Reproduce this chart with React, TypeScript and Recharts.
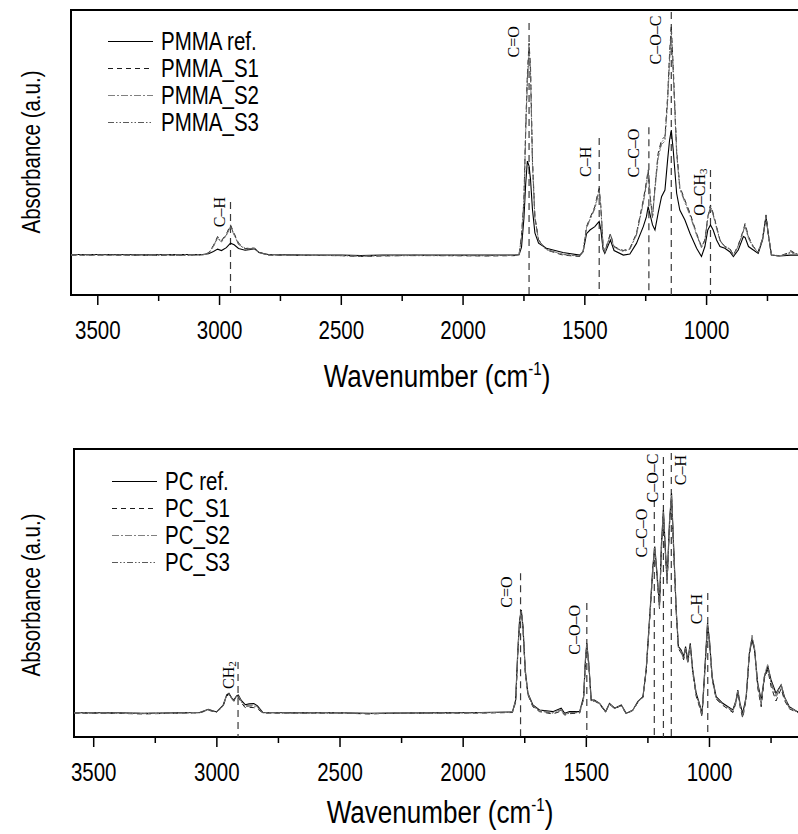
import React from 'react';
import { LineChart, Line, XAxis, YAxis, ReferenceLine, ReferenceArea, ReferenceDot, Legend } from 'recharts';

// ---------- PMMA (top panel) ----------
const PMMA_WAVENUMBERS = [
  3610, 3450, 3300, 3150, 3070, 3045, 3025, 3008, 2992, 2972,
  2955, 2940, 2922, 2895, 2872, 2856, 2838, 2800, 2650, 2500,
  2420, 2330, 2200, 2050, 1900, 1790, 1770, 1760, 1750, 1743,
  1736, 1729, 1723, 1715, 1705, 1690, 1658, 1590, 1521, 1507,
  1493, 1479, 1459, 1448, 1441, 1434, 1425, 1418, 1395, 1380,
  1342, 1315, 1288, 1260, 1247, 1240, 1230, 1222, 1212, 1199,
  1185, 1171, 1160, 1152, 1145, 1137, 1123, 1110, 1089, 1068,
  1041, 1021, 1007, 995, 984, 973, 959, 945, 925, 905,
  890, 870, 849, 842, 828, 808, 788, 770, 756, 747,
  734, 700, 670, 655, 640, 620, 600,
];
const PMMA_REF = [
  14.2, 14.2, 14.1, 14.2, 14.2, 14.5, 15.3, 16.1, 15.6, 16.6,
  18.2, 17.6, 16.3, 15.7, 16.0, 16.2, 14.9, 14.2, 14.0, 14.0,
  13.8, 14.0, 14.0, 14.0, 14.0, 14.0, 14.1, 16.8, 27.0, 38.8,
  47.0, 45.2, 40.5, 30.0, 21.8, 18.2, 16.4, 14.9, 14.0, 15.2,
  21.5, 22.8, 24.0, 25.1, 25.8, 22.8, 15.9, 14.6, 19.3, 15.6,
  14.0, 14.4, 18.1, 24.0, 27.5, 31.0, 27.5, 24.6, 22.8, 28.7,
  34.5, 36.8, 47.4, 54.4, 57.9, 50.9, 35.7, 29.8, 26.3, 21.6,
  16.4, 13.5, 17.0, 22.8, 24.6, 22.8, 19.3, 17.0, 16.4, 15.2,
  13.5, 15.8, 20.5, 20.2, 17.0, 15.8, 14.6, 19.3, 27.5, 21.6,
  14.0, 13.7, 13.9, 14.0, 14.0, 14.0, 14.0,
];
const PMMA_S1 = [
  14.0, 14.0, 13.9, 14.0, 14.1, 14.8, 17.4, 20.5, 19.1, 21.4,
  24.6, 21.6, 18.2, 16.3, 16.5, 16.4, 15.0, 14.0, 13.9, 13.8,
  13.5, 13.7, 13.9, 13.8, 13.7, 13.8, 14.2, 21.0, 33.5, 58.5,
  77.5, 88.3, 80.0, 47.5, 27.5, 19.4, 15.8, 14.0, 13.5, 15.3,
  24.0, 27.0, 31.0, 35.2, 37.4, 31.0, 17.1, 15.2, 21.6, 17.0,
  15.6, 16.4, 21.6, 33.3, 39.8, 43.9, 33.3, 27.5, 38.0, 49.7,
  54.4, 55.6, 69.6, 84.8, 94.4, 80.1, 50.9, 38.0, 33.3, 28.7,
  21.6, 17.0, 19.3, 27.5, 31.6, 28.7, 24.0, 19.3, 17.0, 16.4,
  14.0, 17.5, 22.8, 25.1, 20.5, 17.0, 15.2, 19.9, 28.1, 21.6,
  14.0, 13.7, 14.6, 15.6, 14.8, 14.6, 14.5,
];
const PMMA_S2 = [
  14.1, 14.0, 14.0, 14.1, 14.1, 14.6, 17.0, 19.8, 18.6, 20.9,
  23.8, 21.0, 17.9, 16.0, 16.2, 16.3, 14.8, 14.1, 13.9, 13.9,
  13.6, 13.8, 13.9, 13.9, 13.8, 13.9, 14.1, 20.0, 32.0, 56.0,
  74.0, 85.0, 77.0, 45.5, 26.8, 19.0, 15.9, 14.3, 13.7, 15.2,
  23.4, 26.4, 30.2, 34.0, 36.0, 30.0, 16.8, 15.0, 21.0, 16.6,
  15.3, 16.0, 21.0, 32.2, 38.5, 42.5, 32.5, 27.0, 37.0, 48.0,
  52.8, 54.0, 67.5, 82.0, 91.0, 77.5, 49.5, 37.2, 32.4, 27.8,
  21.0, 16.6, 19.0, 26.8, 30.6, 28.0, 23.4, 19.0, 16.8, 16.1,
  13.8, 17.0, 22.2, 24.0, 19.8, 16.6, 15.0, 19.6, 27.8, 21.6,
  14.1, 13.8, 14.2, 14.8, 14.4, 14.3, 14.2,
];
const PMMA_S3 = [
  14.0, 14.1, 14.0, 13.9, 14.0, 14.7, 17.2, 20.2, 18.8, 21.1,
  24.2, 21.3, 17.7, 16.2, 16.3, 16.5, 14.9, 14.0, 14.0, 13.8,
  13.7, 13.8, 13.8, 13.8, 13.8, 13.9, 14.2, 20.5, 33.0, 57.5,
  76.0, 86.8, 78.5, 46.5, 27.2, 19.2, 16.0, 14.2, 13.6, 15.2,
  23.7, 26.6, 30.6, 34.6, 36.8, 30.5, 17.0, 15.1, 21.3, 16.8,
  15.4, 16.2, 21.3, 32.8, 39.2, 43.2, 33.0, 27.3, 37.6, 49.0,
  53.6, 55.0, 68.8, 83.6, 93.0, 79.0, 50.2, 37.6, 32.9, 28.3,
  21.3, 16.8, 19.2, 27.2, 31.2, 28.4, 23.8, 19.2, 16.9, 16.3,
  13.9, 17.3, 22.5, 24.6, 20.2, 16.8, 15.1, 19.8, 28.0, 21.6,
  14.0, 13.7, 14.4, 15.2, 14.6, 14.4, 14.3,
];

// ---------- PC (bottom panel) ----------
const PC_WAVENUMBERS = [
  3580, 3400, 3300, 3150, 3070, 3035, 3001, 2975, 2960, 2951,
  2940, 2931, 2920, 2913, 2900, 2885, 2869, 2850, 2835, 2813,
  2700, 2500, 2380, 2300, 2100, 1930, 1800, 1787, 1778, 1771,
  1764, 1757, 1748, 1737, 1717, 1690, 1636, 1602, 1588, 1568,
  1527, 1511, 1503, 1498, 1490, 1480, 1467, 1446, 1422, 1406,
  1385, 1358, 1338, 1311, 1291, 1270, 1257, 1241, 1230, 1222,
  1212, 1203, 1195, 1187, 1179, 1172, 1162, 1154, 1146, 1135,
  1126, 1115, 1105, 1097, 1088, 1078, 1068, 1054, 1041, 1030,
  1019, 1008, 1000, 989, 973, 946, 905, 892, 885, 876,
  865, 851, 838, 827, 817, 804, 790, 777, 763, 750,
  730, 709, 696, 676, 643, 600,
];
const PC_REF = [
  8.4, 8.4, 8.2, 8.4, 8.5, 9.6, 8.7, 11.0, 14.6, 15.2,
  13.6, 12.8, 14.3, 14.6, 12.6, 11.2, 11.5, 11.6, 10.8, 8.5,
  8.4, 8.4, 8.2, 8.3, 8.4, 8.5, 8.7, 12.8, 30.2, 40.6,
  44.1, 38.3, 23.3, 15.2, 11.1, 9.4, 8.8, 10.0, 8.2, 8.8,
  8.8, 14.0, 27.9, 32.5, 25.6, 12.8, 12.8, 11.7, 8.8, 11.7,
  10.0, 11.1, 8.2, 9.4, 12.3, 14.0, 23.3, 44.1, 59.1, 66.1,
  55.7, 45.3, 67.2, 78.8, 64.9, 54.5, 75.3, 84.6, 67.2, 44.1,
  31.4, 30.2, 27.9, 31.4, 26.7, 32.5, 23.3, 15.2, 11.7, 8.2,
  23.3, 39.5, 33.7, 20.9, 14.0, 11.7, 9.4, 12.8, 16.3, 11.7,
  8.2, 14.0, 29.1, 33.7, 30.2, 18.6, 12.8, 20.9, 24.4, 19.8,
  15.2, 18.1, 14.0, 10.5, 8.8, 8.6,
];
const PC_S1 = [
  8.3, 8.2, 8.0, 8.3, 8.4, 9.3, 8.6, 10.6, 14.2, 14.8,
  13.3, 12.4, 13.8, 13.9, 11.8, 10.2, 10.3, 10.2, 9.8, 8.3,
  8.3, 8.3, 8.0, 8.2, 8.3, 8.3, 8.5, 12.0, 29.0, 39.6,
  43.5, 37.5, 22.5, 14.6, 10.5, 8.8, 8.0, 9.0, 7.6, 8.1,
  8.3, 13.2, 27.0, 31.6, 24.8, 12.3, 12.5, 11.4, 8.6, 11.4,
  9.8, 10.9, 8.0, 9.2, 12.0, 13.8, 23.0, 43.0, 57.8, 65.0,
  54.6, 44.6, 66.0, 77.4, 63.8, 53.2, 74.0, 83.0, 66.0, 43.2,
  30.6, 29.2, 26.8, 30.2, 25.6, 31.4, 22.4, 14.2, 10.6, 7.0,
  22.5, 38.6, 32.8, 20.0, 13.2, 11.0, 8.5, 12.0, 15.6, 10.5,
  6.5, 13.2, 28.8, 34.2, 30.4, 17.0, 10.5, 20.2, 23.4, 17.5,
  12.5, 16.8, 12.8, 9.8, 8.5, 8.4,
];
const PC_S2 = [
  8.4, 8.3, 8.1, 8.3, 8.5, 9.5, 8.7, 10.8, 14.5, 15.0,
  13.5, 12.6, 14.1, 14.4, 12.3, 10.9, 11.0, 11.1, 10.4, 8.4,
  8.3, 8.4, 8.1, 8.3, 8.3, 8.4, 8.6, 12.5, 29.8, 40.2,
  44.0, 38.0, 23.0, 15.0, 10.9, 9.2, 8.5, 9.6, 8.0, 8.5,
  8.6, 13.7, 27.5, 32.2, 25.3, 12.6, 12.7, 11.6, 8.7, 11.6,
  9.9, 11.0, 8.1, 9.3, 12.2, 13.9, 23.2, 43.6, 58.5, 65.6,
  55.2, 45.0, 66.6, 78.2, 64.4, 54.0, 74.8, 84.0, 66.7, 43.8,
  31.0, 29.8, 27.4, 30.9, 26.2, 32.0, 22.9, 14.8, 11.3, 7.8,
  23.0, 39.2, 33.4, 20.6, 13.7, 11.4, 9.1, 12.5, 16.0, 11.2,
  7.6, 13.7, 29.4, 35.4, 31.0, 18.2, 12.0, 21.6, 25.4, 19.2,
  14.6, 18.4, 13.8, 10.4, 8.7, 8.5,
];
const PC_S3 = [
  8.3, 8.3, 8.2, 8.4, 8.4, 9.4, 8.6, 10.7, 14.3, 14.9,
  13.4, 12.5, 14.0, 14.2, 12.1, 10.6, 10.7, 10.8, 10.2, 8.4,
  8.3, 8.3, 8.1, 8.2, 8.3, 8.4, 8.6, 12.3, 29.5, 40.0,
  43.8, 37.8, 22.8, 14.8, 10.7, 9.0, 8.3, 9.3, 7.8, 8.3,
  8.5, 13.4, 27.2, 31.9, 25.0, 12.5, 12.6, 11.5, 8.7, 11.5,
  9.9, 11.0, 8.1, 9.3, 12.1, 13.9, 23.1, 43.3, 58.2, 65.3,
  55.0, 44.8, 66.4, 77.8, 64.1, 53.6, 74.4, 83.5, 66.4, 43.5,
  30.8, 29.5, 27.1, 30.6, 25.9, 31.7, 22.6, 14.5, 11.0, 7.5,
  22.7, 38.9, 33.1, 20.3, 13.5, 11.2, 8.8, 12.3, 15.8, 10.9,
  7.2, 13.5, 29.0, 34.6, 30.6, 17.6, 11.4, 21.0, 24.6, 18.5,
  13.8, 17.8, 13.4, 10.1, 8.6, 8.5,
];

const X_TICKS = [3500, 3250, 3000, 2750, 2500, 2250, 2000, 1750, 1500, 1250, 1000, 750];
const PMMA_NAMES = ['PMMA ref.', 'PMMA_S1', 'PMMA_S2', 'PMMA_S3'];
const PC_NAMES = ['PC ref.', 'PC_S1', 'PC_S2', 'PC_S3'];

// band assignments: wavenumber, top of marker, label centre (absorbance units), text
const PMMA_BANDS = [
  { w: 2955, top: 32.6, at: 29.1, text: 'C–H', sub: '' },
  { w: 1729, top: 95.4, at: 88.8, text: 'C=O', sub: '' },
  { w: 1441, top: 55.1, at: 46.7, text: 'C–H', sub: '' },
  { w: 1237, top: 58.9, at: 49.8, text: 'C–C–O', sub: '' },
  { w: 1145, top: 99.3, at: 89.5, text: 'C–O–C', sub: '' },
  { w: 984, top: 43.9, at: 36.1, text: 'O–CH', sub: '3' },
];
const PC_BANDS = [
  { w: 2914, top: 26.0, at: 21.5, text: 'CH', sub: '2' },
  { w: 1767, top: 56.9, at: 50.3, text: 'C=O', sub: '' },
  { w: 1498, top: 46.5, at: 37.2, text: 'C–O–O', sub: '' },
  { w: 1224, top: 82.3, at: 70.8, text: 'C–C–O', sub: '' },
  { w: 1187, top: 97.2, at: 89.9, text: 'C–O–C', sub: '' },
  { w: 1155, top: 98.6, at: 92.7, text: 'C–H', sub: '' },
  { w: 1007, top: 50.0, at: 44.4, text: 'C–H', sub: '' },
];

// ---------- styling ----------
const SANS = "'Liberation Sans', Arial, sans-serif";
const SERIF = "'Liberation Serif', 'Times New Roman', serif";
const NARROW_SCALE = 0.82;
const SERIES = [
  { key: 'ref', stroke: '#000000', dash: undefined as string | undefined, width: 1.1 },
  { key: 's1', stroke: '#1c1c1c', dash: '5 4', width: 1 },
  { key: 's2', stroke: '#808080', dash: '7 2 2 2', width: 1 },
  { key: 's3', stroke: '#5a5a5a', dash: '6 2 1.5 2 1.5 2', width: 1 },
];
const PMMA_LABEL_DX = [-11, -16, -14, -15, -16, -11];
const PC_LABEL_DX = [-10, -14, -12, -13, -11, 9, -11];

const buildRows = (w: number[], a: number[], b: number[], c: number[], d: number[]) =>
  w.map((x, i) => ({ w: x, ref: a[i], s1: b[i], s2: c[i], s3: d[i] }));

const PMMA_ROWS = buildRows(PMMA_WAVENUMBERS, PMMA_REF, PMMA_S1, PMMA_S2, PMMA_S3);
const PC_ROWS = buildRows(PC_WAVENUMBERS, PC_REF, PC_S1, PC_S2, PC_S3);

const AxisTick = (props: any) => {
  const { x, y, payload } = props;
  const v = payload.value as number;
  const major = v % 500 === 0;
  return (
    <g>
      <line x1={x} x2={x} y1={y} y2={y + (major ? 10 : 6)} stroke="#000" strokeWidth={1.5} />
      {major && (
        <text transform={`translate(${x},${y + 44}) scale(${NARROW_SCALE},1)`} textAnchor="middle"
          fontFamily={SANS} fontSize={25} fill="#000">
          {v}
        </text>
      )}
    </g>
  );
};

const LegendBox = ({ names }: { names: string[] }) => (
  <div style={{ fontFamily: SANS, fontSize: 25, color: '#000' }}>
    {names.map((n, i) => (
      <div key={n} style={{ display: 'flex', alignItems: 'center', height: 27 }}>
        <svg width={45} height={27} style={{ marginRight: 8, display: 'block', flex: 'none' }}>
          <line x1={0} x2={45} y1={13.5} y2={13.5} stroke={SERIES[i].stroke} strokeWidth={1.2}
            strokeDasharray={SERIES[i].dash} />
        </svg>
        <span style={{ lineHeight: '27px', whiteSpace: 'nowrap', display: 'inline-block',
          transform: `scaleX(${NARROW_SCALE})`, transformOrigin: 'left center' }}>{n}</span>
      </div>
    ))}
  </div>
);

type PanelProps = {
  rows: any[];
  domain: [number, number];
  width: number;
  height: number;
  margin: { top: number; right: number; left: number; bottom: number };
  axisHeight: number;
  names: string[];
  bands: typeof PMMA_BANDS;
  labelDx: number[];
  legendLeft: number;
  legendTop: number;
};

const Panel = (p: PanelProps) => (
  <LineChart width={p.width} height={p.height} data={p.rows} margin={p.margin}>
    <XAxis type="number" dataKey="w" domain={p.domain} reversed allowDataOverflow ticks={X_TICKS}
      interval={0} tickSize={0} tickMargin={0} axisLine={false} tickLine={false} height={p.axisHeight}
      tick={(t: any) => <AxisTick {...t} />} />
    <YAxis hide type="number" domain={[0, 100]} allowDataOverflow />
    <ReferenceArea x1={p.domain[0]} x2={p.domain[1]} y1={0} y2={100} fill="none" fillOpacity={0}
      stroke="#000" strokeWidth={2} ifOverflow="visible" />
    {p.bands.map((b, i) => (
      <ReferenceLine key={'l' + i} segment={[{ x: b.w, y: b.top }, { x: b.w, y: 0 }]}
        stroke="#3a3a3a" strokeWidth={1.2} strokeDasharray="7 5" ifOverflow="visible" />
    ))}
    {SERIES.map((s) => (
      <Line key={s.key} dataKey={s.key} type="linear" dot={false} stroke={s.stroke} strokeWidth={s.width}
        strokeDasharray={s.dash} isAnimationActive={false} />
    ))}
    {p.bands.map((b, i) => (
      <ReferenceDot key={'d' + i} x={b.w} y={b.at} r={0} ifOverflow="visible"
        shape={(d: any) => (
          <text transform={`translate(${d.cx + p.labelDx[i]},${d.cy}) rotate(-90)`} textAnchor="middle"
            dominantBaseline="central" fontFamily={SERIF} fontSize={16} fill="#000">
            {b.text}
            {b.sub ? <tspan fontSize={11} dy={4}>{b.sub}</tspan> : null}
          </text>
        )} />
    ))}
    <Legend layout="vertical" align="center" verticalAlign="middle"
      wrapperStyle={{ position: 'absolute', left: p.legendLeft, top: p.legendTop, width: 220, height: 110 }}
      content={() => <LegendBox names={p.names} />} />
  </LineChart>
);

const yTitleStyle = (top: number): React.CSSProperties => ({
  position: 'absolute', left: 31, top,
  transform: `translate(-50%, -50%) rotate(-90deg) scaleX(${NARROW_SCALE})`,
  fontFamily: SANS, fontSize: 25, whiteSpace: 'nowrap', lineHeight: 1, color: '#000',
});
const xTitleStyle = (left: number, top: number): React.CSSProperties => ({
  position: 'absolute', left, top, transform: `translate(-50%, -50%) scaleX(0.84)`,
  fontFamily: SANS, fontSize: 31, whiteSpace: 'nowrap', lineHeight: 1, color: '#000',
});

export default function App() {
  return (
    <div style={{ position: 'fixed', left: 0, top: 0, width: 798, height: 834, overflow: 'hidden', background: '#fff' }}>
      <div style={{ position: 'absolute', left: 0, top: 0 }}>
        <Panel rows={PMMA_ROWS} domain={[600, 3610]} width={830} height={400}
          margin={{ top: 10, right: 26, left: 71, bottom: 0 }} axisHeight={105}
          names={PMMA_NAMES} bands={PMMA_BANDS} labelDx={PMMA_LABEL_DX} legendLeft={108} legendTop={28} />
      </div>
      <div style={{ position: 'absolute', left: 0, top: 440 }}>
        <Panel rows={PC_ROWS} domain={[600, 3580]} width={830} height={394}
          margin={{ top: 9, right: 22, left: 74, bottom: 0 }} axisHeight={97}
          names={PC_NAMES} bands={PC_BANDS} labelDx={PC_LABEL_DX} legendLeft={112} legendTop={28} />
      </div>
      <div style={yTitleStyle(152)}>Absorbance (a.u.)</div>
      <div style={yTitleStyle(595)}>Absorbance (a.u.)</div>
      <div style={xTitleStyle(437, 376)}>Wavenumber (cm<sup style={{ fontSize: 18 }}>-1</sup>)</div>
      <div style={xTitleStyle(440, 812)}>Wavenumber (cm<sup style={{ fontSize: 18 }}>-1</sup>)</div>
    </div>
  );
}
